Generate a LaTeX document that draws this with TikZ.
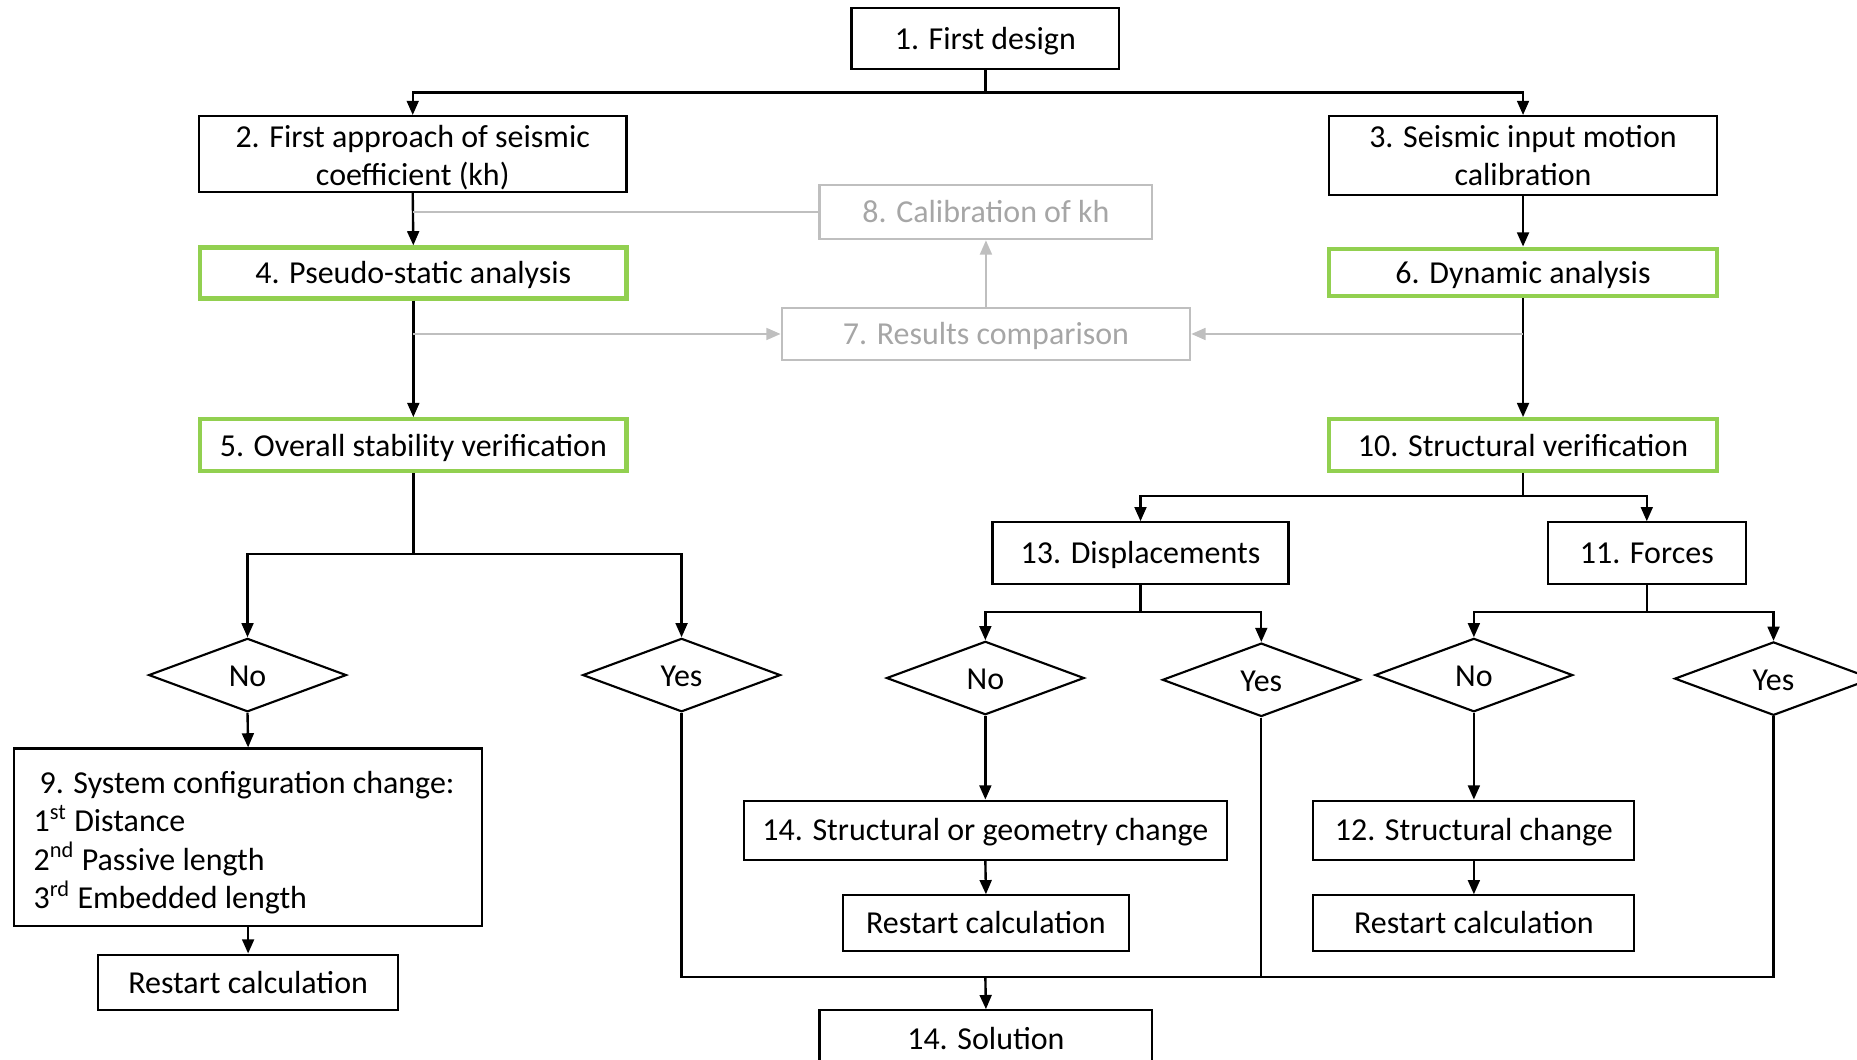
\documentclass[tikz,border=0pt]{standalone}
\usepackage{fontspec}
\setmainfont{Carlito}
\usetikzlibrary{shapes.geometric,arrows.meta}
\definecolor{grn}{RGB}{146,208,80}
\definecolor{lgray}{RGB}{191,191,191}
\definecolor{tgray}{RGB}{166,166,166}
\begin{document}
\begin{tikzpicture}[x=0.5pt,y=-0.5pt,
  every node/.style={font=\fontsize{13.5}{16.2}\selectfont, inner sep=0pt, align=center, text height=11pt, text depth=1.9pt},
  multi/.style={text height=, text depth=},
  bx/.style={draw=black, line width=0.9pt, rectangle},
  gbx/.style={draw=grn, line width=1.8pt, rectangle},
  gybx/.style={draw=lgray, line width=0.9pt, rectangle, text=tgray},
  dm/.style={draw=black, line width=0.9pt, diamond, minimum width=83.5pt, minimum height=31pt, text height=10pt, text depth=0pt},
  ln/.style={line width=1pt, draw=black},
  arr/.style={ln, -{Triangle[length=6pt,width=5pt]}},
  garr/.style={line width=0.9pt, draw=lgray, -{Triangle[length=6pt,width=5pt]}},
  gln/.style={line width=0.9pt, draw=lgray}]
\useasboundingbox (0,0) rectangle (1568,895);
% boxes
\node[bx, minimum width=113pt, minimum height=25.5pt] (b1) at (832,32.5) {1. First design};
\node[bx, minimum width=180.5pt, minimum height=32pt] (b2) at (348.5,130) {};
\node[multi] (b2t) at (348.5,133) {2. First approach of seismic\\coefficient (kh)};
\node[bx, minimum width=164pt, minimum height=33.5pt] (b3) at (1286,131.5) {};
\node[multi] (b3t) at (1286,131.5) {3. Seismic input motion\\calibration};
\node[gybx, minimum width=140.5pt, minimum height=23pt] (b8) at (832.5,179) {8. Calibration of kh};
\node[gbx, minimum width=180pt, minimum height=21.5pt] (b4) at (349,230.5) {4. Pseudo-static analysis};
\node[gbx, minimum width=164pt, minimum height=20pt] (b6) at (1286,230) {6. Dynamic analysis};
\node[gybx, minimum width=172.5pt, minimum height=22pt] (b7) at (832.5,282) {7. Results comparison};
\node[gbx, minimum width=180pt, minimum height=22pt] (b5) at (349,376) {5. Overall stability verification};
\node[gbx, minimum width=164pt, minimum height=22pt] (b10) at (1286,376) {10. Structural verification};
\node[bx, minimum width=125pt, minimum height=26pt] (b13) at (963,467) {13. Displacements};
\node[bx, minimum width=83.5pt, minimum height=26pt] (b11) at (1390.5,467) {11. Forces};
% diamonds
\node[dm] (n1) at (209,570) {No};
\node[dm] (y1) at (575.5,570) {Yes};
\node[dm] (n2) at (832,572.5) {No};
\node[dm] (y2) at (1065,574) {Yes};
\node[dm] (n3) at (1244.5,570) {No};
\node[dm] (y3) at (1497.5,573) {Yes};
% lower boxes
\node[bx, minimum width=197.5pt, minimum height=75pt] (b9) at (209.5,707) {};
\node[multi, anchor=west, align=left] (b9t) at (28,711.5) {\hspace*{2.5pt}9. System configuration change:\\1\textsuperscript{st} Distance\\2\textsuperscript{nd} Passive length\\3\textsuperscript{rd} Embedded length};
\node[bx, minimum width=126.5pt, minimum height=23.5pt] (r1) at (209.5,829.5) {Restart calculation};
\node[bx, minimum width=204pt, minimum height=25pt] (b14) at (832,701) {14. Structural or geometry change};
\node[bx, minimum width=120.5pt, minimum height=23.5pt] (r2) at (832.5,779.5) {Restart calculation};
\node[bx, minimum width=135.5pt, minimum height=25pt] (b12) at (1244.5,701) {12. Structural change};
\node[bx, minimum width=135.5pt, minimum height=23.5pt] (r3) at (1244.5,779.5) {Restart calculation};
\node[bx, minimum width=140.5pt, minimum height=24pt] (sol) at (832.5,877) {14. Solution};
% junction coordinates
\coordinate (j1) at (832,78);
\coordinate (j5) at (349,468);
\coordinate (j10) at (1286,419);
\coordinate (j13) at (963,517);
\coordinate (j11) at (1390.5,517);
\coordinate (jb) at (832,825);
\coordinate (g24) at (349,179);
\coordinate (g45) at (349,282);
\coordinate (g610) at (1286,282);
% top connectors
\draw[ln] (b1.south) -- (j1);
\draw[arr] (j1) -| (b2.north);
\draw[arr] (j1) -| (b3.north);
\draw[arr] (b2.south) -- (b4.north);
\draw[arr] (b3.south) -- (b6.north);
\draw[arr] (b4.south) -- (b5.north);
\draw[arr] (b6.south) -- (b10.north);
% gray connectors
\draw[gln] (b8.west) -- (g24);
\draw[garr] (g45) -- (b7.west);
\draw[garr] (g610) -- (b7.east);
\draw[garr] (b7.north) -- (b8.south);
% left branch
\draw[ln] (b5.south) -- (j5);
\draw[arr] (j5) -| (n1.north);
\draw[arr] (j5) -| (y1.north);
\draw[arr] (n1.south) -- (b9.north);
\draw[arr] (b9.south) -- (r1.north);
% right branch
\draw[ln] (b10.south) -- (j10);
\draw[arr] (j10) -| (b13.north);
\draw[arr] (j10) -| (b11.north);
\draw[ln] (b13.south) -- (j13);
\draw[arr] (j13) -| (n2.north);
\draw[arr] (j13) -| (y2.north);
\draw[ln] (b11.south) -- (j11);
\draw[arr] (j11) -| (n3.north);
\draw[arr] (j11) -| (y3.north);
\draw[arr] (n2.south) -- (b14.north);
\draw[arr] (b14.south) -- (r2.north);
\draw[arr] (n3.south) -- (b12.north);
\draw[arr] (b12.south) -- (r3.north);
% yes to solution
\draw[ln] (y1.south) |- (jb);
\draw[ln] (y2.south) |- (jb);
\draw[ln] (y3.south) |- (jb);
\draw[arr] (jb) -- (sol.north);
\end{tikzpicture}
\end{document}
